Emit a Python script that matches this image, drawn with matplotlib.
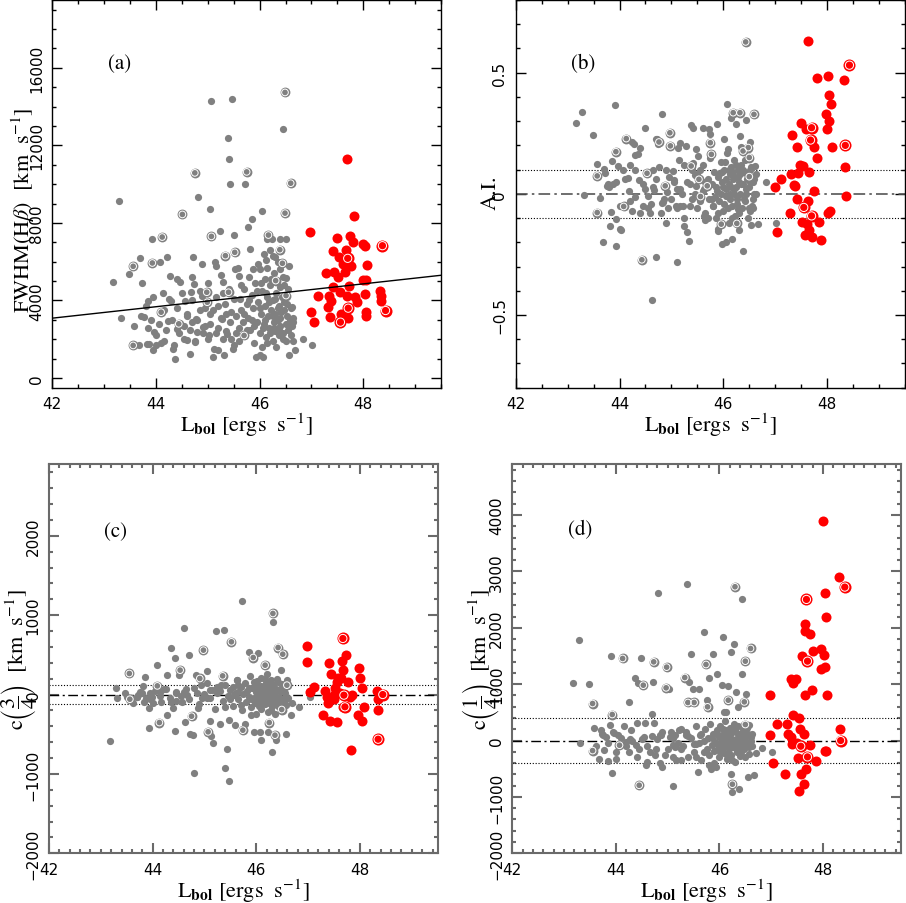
import matplotlib
matplotlib.use("Agg")
import matplotlib.pyplot as plt
from matplotlib.ticker import MultipleLocator, FuncFormatter

# ---------------- data ----------------
# panel (a): FWHM(Hbeta) vs Lbol
A_GREY = [(43.18,4939),(43.28,9141),(43.32,3087),(43.48,5351),(43.58,2675),(43.69,6174),(43.74,4922),
    (43.72,3190),(43.77,3138),(43.68,1681),(43.80,3704),(43.85,3962),(43.82,1766),(43.86,1766),(43.92,7169),
    (43.95,4167),(43.96,2367),(43.94,1423),(44.01,1681),(44.08,6003),(44.14,4390),(44.16,1887),(44.21,6226),
    (44.24,2916),(44.27,5248),(44.29,3996),(44.33,1509),(44.37,995),(44.40,2538),(44.40,5111),(44.46,4939),
    (44.56,3996),(44.59,3224),(44.60,1938),(44.66,1252),(44.67,4425),(44.69,5196),(44.72,6226),(44.74,4853),
    (44.75,1852),(44.78,3053),(44.80,2367),(44.81,9330),(44.88,5882),(44.89,4253),(44.91,2624),(45.02,2195),
    (45.04,8712),(45.06,14269),(45.11,1080),(45.13,5968),(45.16,5797),(45.20,1423),(45.23,7597),(45.27,3053),
    (45.29,4939),(45.32,1166),(45.37,2281),(45.39,12365),(45.40,11302),(45.43,10033),(45.47,14389),(45.49,1509),
    (45.51,7375),(45.59,5660),(45.61,5282),(45.68,2195),(45.72,9998),(45.78,7769),(45.81,6654),(45.86,8198),
    (45.93,1080),(45.97,5882),(46.04,8592),(46.07,1080),(46.14,7169),(46.23,7169),(46.30,6226),(46.39,7169),
    (46.46,12828),(46.51,7169),(46.50,5145),(46.65,2881),(46.62,3653),(46.65,1887),(46.83,2024),(47.02,1715),
    (46.68,1423),(46.57,1200),
    (45.55,3200),(45.6,2600),(45.62,4100),(45.65,3500),(45.68,2900),(45.7,4600),(45.72,2200),(45.75,3800),
    (45.78,3100),(45.8,5200),(45.82,2500),(45.85,4300),(45.87,3600),(45.9,1800),(45.92,4900),(45.95,2900),
    (45.97,3900),(46.0,5600),(46.0,2300),(46.02,3300),(46.05,4500),(46.05,1600),(46.08,2800),(46.1,3700),
    (46.1,5100),(46.12,6100),(46.13,2100),(46.15,4200),(46.17,3200),(46.18,2600),(46.2,4800),(46.2,6600),
    (46.22,3500),(46.25,1900),(46.25,4000),(46.27,2900),(46.28,5400),(46.3,3300),(46.3,2400),(46.32,4400),
    (46.35,3000),(46.35,6000),(46.37,2200),(46.38,3700),(46.4,4700),(46.4,2700),(46.42,3400),(46.45,5200),
    (46.45,2000),(46.47,3900),(46.5,2800),(46.5,4300),(46.52,3200),(46.55,2500),(46.57,5800),(46.6,3600),
    (46.62,2700),(46.65,3100),
    (44.6,3300),(44.65,2500),(44.7,4000),(44.75,1900),(44.8,3000),(44.85,4500),(44.9,2300),(44.95,3600),
    (45.0,2000),(45.0,4900),(45.05,2800),(45.1,3500),(45.12,1500),(45.15,4200),(45.2,2600),(45.25,3100),
    (45.25,5300),(45.3,2000),(45.33,3800),(45.35,2400),(45.4,4600),(45.42,2900),(45.45,3400),(45.5,1700),
    (45.5,4100),(45.52,5600),(45.55,2300),
    (43.85,2600),(43.9,3000),(44.0,2200),(44.05,2800),(44.1,1800),(44.15,3500),(44.2,2500),(44.25,4100),
    (44.3,3000),(44.35,1700),(44.4,3600),(44.45,2300),(44.5,4400),(44.55,2000),
    (45.6,1900),(45.65,4800),(45.7,3300),(45.75,2500),(45.8,4000),(45.85,3000),(45.88,5600),(45.9,2700),
    (45.95,4500),(46.0,3600),(46.0,1200),(46.03,4900),(46.07,2600),(46.08,6400),(46.1,3000),(46.12,4400),
    (46.15,1800),(46.15,5700),(46.18,3900),(46.2,2300),(46.22,5100),(46.25,3200),(46.25,6300),(46.28,2600),
    (46.3,4100),(46.32,1600),(46.33,5000),(46.35,3600),(46.37,2500),(46.4,3100),(46.4,5600),(46.43,4200),
    (46.45,2300),(46.47,3500),(46.48,4800),(46.5,1900),(46.53,3800),(46.55,4600),(46.58,3000),(46.6,2200),
    (45.45,2000),(45.35,3300),(45.3,4400),(45.2,3700),(45.15,2300),(45.05,3300),(44.95,2700),(44.85,3500),
    (44.7,2900),(44.55,2700)]
A_GREY_RING = [(43.56,5762),(43.56,1681),(43.93,5934),(44.10,3396),(44.12,7272),(44.44,2795),(44.51,8438),
    (44.75,10582),(44.98,4425),(44.99,3910),(45.07,7306),(45.34,6311),(45.40,4425),(45.52,6483),(45.70,2195),
    (45.75,10633),(46.17,7375),(46.39,6620),(46.49,14732),(46.49,8506),(46.44,5917),(46.60,10050),(46.51,4253),
    (46.31,5025)]
A_RED = [(46.98,7512),(46.99,3396),(47.04,2898),(47.12,4219),(47.28,5402),(47.34,4253),(47.38,3979),
    (47.32,3653),(47.36,3138),(47.41,6534),(47.42,4682),(47.44,5488),(47.49,7203),(47.52,5196),(47.54,6226),
    (47.55,4459),(47.58,3310),(47.61,5882),(47.65,5488),(47.67,6620),(47.68,11285),(47.68,4253),(47.74,7340),
    (47.76,5797),(47.73,4768),(47.70,3087),(47.81,6997),(47.82,8335),(47.84,4167),(47.87,3945),(47.99,6911),
    (48.03,6826),(48.00,5076),(48.06,5076),(48.03,4339),(48.05,3396),(48.06,3224),(48.08,5848),(48.32,4510),
    (48.35,4253),(48.35,3996)]
A_RED_RING = [(47.56,2881),(47.70,6174),(47.71,3602),(48.37,6826),(48.43,3481)]
A_FIT_AT_42 = 3087      # fitted relation value at Lbol = 42
A_FIT_SLOPE = 295       # km/s per dex

# panel (b): asymmetry index
B_GREY = [(43.17,0.291),(43.28,0.337),(43.32,-0.004),(43.49,0.244),(43.57,0.125),(43.62,-0.018),(43.68,-0.198),
    (43.71,0.102),(43.73,0.085),(43.75,0.033),(43.78,0.040),(43.81,-0.132),(43.84,-0.073),(43.86,0.134),
    (43.88,0.040),(43.92,0.365),(43.94,0.049),(43.93,-0.102),(43.94,-0.217),(43.98,0.115),(44.00,-0.145),
    (44.02,-0.150),(44.07,0.097),(44.16,0.064),(44.18,0.010),(44.21,0.119),(44.25,0.214),(44.27,0.207),
    (44.29,0.159),(44.36,0.165),(44.24,-0.070),(44.29,-0.011),(44.38,0.058),(44.40,0.188),(44.45,-0.052),
    (44.49,0.272),(44.55,-0.008),(44.58,-0.080),(44.62,-0.440),(44.65,0.029),(44.67,0.016),(44.70,-0.259),
    (44.71,0.225),(44.73,0.228),(44.74,0.204),(44.77,0.111),(44.81,0.331),(44.81,-0.036),(44.83,-0.033),
    (44.89,-0.121),(44.92,0.008),(44.94,-0.060),(45.03,0.095),(45.05,0.056),(45.08,-0.052),(45.10,-0.283),
    (45.13,0.191),(45.17,0.209),(45.16,0.019),(45.17,-0.052),(45.22,-0.049),(45.24,-0.132),(45.29,0.198),
    (45.30,-0.159),(45.33,-0.195),(45.35,0.040),(45.37,0.283),(45.42,0.273),(45.42,0.129),(45.45,0.077),
    (45.47,0.033),(45.48,0.184),(45.51,0.156),(45.60,0.012),(45.61,0.273),(45.62,-0.091),(45.64,-0.108),
    (45.67,0.040),(45.72,0.266),(45.74,0.246),(45.79,-0.022),(45.80,-0.049),(45.83,-0.015),(45.87,0.287),
    (45.89,-0.145),(45.90,-0.152),(45.93,0.088),(45.97,-0.207),(46.05,-0.200),(46.01,0.225),(46.08,0.372),
    (46.09,0.184),(46.12,-0.022),(46.14,0.314),(46.17,-0.187),(46.24,0.287),(46.28,-0.063),(46.33,0.239),
    (46.35,0.195),(46.38,-0.235),(46.44,0.305),(46.51,0.215),(46.52,-0.071),(46.54,-0.128),(46.57,-0.060),
    (46.61,0.115),(46.62,-0.001),(46.67,-0.125),(46.83,0.047),(47.02,-0.121),
    (45.3,0.05),(45.35,-0.05),(45.4,0.1),(45.45,0.0),(45.5,0.08),(45.55,-0.03),(45.6,0.12),(45.62,0.02),
    (45.65,-0.08),(45.7,0.06),(45.72,-0.02),(45.75,0.15),(45.78,0.04),(45.8,-0.05),(45.82,0.09),(45.85,-0.1),
    (45.88,0.01),(45.9,0.07),(45.92,-0.03),(45.95,0.13),(45.97,0.05),(46.0,-0.07),(46.0,0.03),(46.02,0.1),
    (46.05,-0.01),(46.05,0.06),(46.08,0.17),(46.1,-0.12),(46.1,0.04),(46.12,0.08),(46.13,0.0),(46.15,0.11),
    (46.17,-0.05),(46.18,0.06),(46.2,0.02),(46.2,0.14),(46.22,-0.09),(46.23,0.07),(46.25,0.03),(46.27,-0.02),
    (46.28,0.1),(46.3,0.05),(46.3,-0.15),(46.32,0.0),(46.33,0.08),(46.35,0.12),(46.36,-0.06),(46.38,0.04),
    (46.4,0.09),(46.42,-0.03),(46.43,0.02),(46.45,0.06),(46.47,-0.1),(46.5,0.03),(46.52,0.1),(46.55,-0.05),
    (46.57,0.05),(46.6,0.0),(46.62,0.08),
    (44.5,0.02),(44.6,-0.04),(44.7,0.06),(44.8,-0.08),(44.9,0.1),(45.0,-0.02),(45.05,0.05),(45.1,-0.06),
    (45.15,0.14),(45.2,0.0),(45.25,-0.1),
    (43.8,0.03),(44.0,-0.05),(44.1,0.06),(44.2,-0.03),(44.3,0.1),(44.4,-0.08),
    (45.85,0.03),(45.9,-0.08),(45.95,0.0),(45.98,0.09),(46.02,-0.04),(46.04,0.13),(46.06,0.02),(46.09,-0.06),
    (46.11,0.1),(46.14,0.03),(46.16,-0.1),(46.19,0.09),(46.21,0.0),(46.24,0.12),(46.26,-0.04),(46.29,0.07),
    (46.31,-0.08),(46.34,0.04),(46.37,0.1),(46.39,-0.02),(46.41,0.14),(46.44,0.0),(46.46,0.08),(46.49,-0.06),
    (46.51,0.05),(46.54,0.11),(46.58,-0.02),(46.6,0.06),(45.5,-0.06),(45.55,0.1),(45.65,0.05),(45.7,-0.1),
    (45.4,-0.02),(45.25,0.12),(45.1,0.02),(44.95,0.07),(44.85,-0.02),(44.65,0.1),(44.55,-0.06),(44.45,0.04)]
B_GREY_RING = [(43.57,0.074),(43.57,-0.077),(43.93,0.174),(44.08,-0.052),(44.13,0.228),(44.43,-0.272),
    (44.53,0.085),(44.76,0.214),(44.88,0.033),(44.97,0.252),(44.98,0.198),(45.38,0.115),(45.53,0.060),
    (45.56,-0.011),(45.69,0.033),(45.75,0.211),(45.77,0.163),(45.96,-0.125),(46.19,0.335),(46.32,0.335),
    (46.26,-0.122),(46.38,0.177),(46.43,0.627),(46.48,0.191),(46.50,0.150),(46.50,0.071),(46.59,0.328)]
B_RED = [(46.99,0.029),(47.04,-0.159),(47.12,0.060),(47.28,-0.078),(47.33,0.241),(47.31,0.081),(47.36,0.036),
    (47.38,0.033),(47.41,0.193),(47.41,-0.022),(47.44,0.084),(47.47,0.119),(47.54,0.115),(47.50,0.291),
    (47.52,-0.118),(47.57,-0.169),(47.60,0.269),(47.61,-0.125),(47.65,0.091),(47.64,-0.030),(47.63,0.631),
    (47.65,-0.150),(47.70,-0.180),(47.74,0.193),(47.75,0.010),(47.80,0.150),(47.81,0.480),(47.84,-0.118),
    (47.88,-0.189),(47.97,0.331),(48.01,0.488),(48.00,0.269),(48.03,0.300),(48.04,0.410),(48.07,0.369),
    (48.02,-0.080),(48.06,-0.070),(48.09,0.192),(48.32,0.470),(48.34,0.111),(48.36,-0.008)]
B_RED_RING = [(47.55,-0.056),(47.68,0.222),(47.70,0.273),(47.70,-0.091),(48.35,0.200),(48.43,0.531)]
B_DOTTED = 0.1

# panel (c): centroid at 3/4
C_GREY = [(43.18,-580),(43.29,88),(43.31,-50),(43.47,13),(43.50,-29),(43.59,-42),(43.63,-113),(43.69,-29),
    (43.72,-8),(43.76,34),(43.81,109),(43.83,-92),(43.86,223),(43.88,-50),(43.92,-176),(43.92,-420),
    (43.95,13),(43.98,-29),(44.01,-101),(44.08,378),(44.14,34),(44.17,-92),(44.21,67),(44.27,244),
    (44.27,-252),(44.33,-50),(44.35,580),(44.39,-168),(44.43,454),(44.44,-462),(44.46,34),(44.50,252),
    (44.56,-92),(44.60,844),(44.62,-344),(44.66,-8),(44.71,496),(44.72,-491),(44.78,-504),(44.80,-983),
    (44.84,244),(44.88,-176),(44.93,118),(45.04,294),(45.05,-50),(45.11,-336),(45.13,-521),(45.17,-613),
    (45.23,802),(45.30,-365),(45.31,118),(45.38,811),(45.40,-924),(45.43,-680),(45.47,-1092),(45.48,-323),
    (45.56,-8),(45.58,-386),(45.62,181),(45.65,118),(45.72,1176),(45.78,-365),(45.86,538),(45.89,-260),
    (45.95,-470),(45.97,-71),(46.04,517),(46.07,-470),(46.10,-567),(46.23,-470),(46.30,-722),(46.33,916),
    (46.38,-575),(46.48,307),(46.57,-491),(46.66,-260),(46.68,-101),(46.82,-155),(47.03,-29),
    (45.3,40),(45.35,-80),(45.4,120),(45.45,-20),(45.5,60),(45.55,-150),(45.6,20),(45.62,180),(45.65,-60),
    (45.7,90),(45.72,-200),(45.75,10),(45.78,140),(45.8,-100),(45.82,50),(45.85,-30),(45.88,230),(45.9,-160),
    (45.92,80),(45.95,-50),(45.97,120),(46.0,-250),(46.0,30),(46.02,170),(46.05,-90),(46.05,60),(46.08,-10),
    (46.1,210),(46.1,-180),(46.12,100),(46.13,-40),(46.15,40),(46.17,-120),(46.18,150),(46.2,-60),(46.2,260),
    (46.22,10),(46.23,-220),(46.25,90),(46.27,-30),(46.28,180),(46.3,-140),(46.3,50),(46.32,-70),(46.33,120),
    (46.35,0),(46.36,-250),(46.38,70),(46.4,-100),(46.42,160),(46.43,-30),(46.45,40),(46.47,-180),(46.5,90),
    (46.52,-60),(46.55,20),(46.57,-130),(46.6,110),(46.62,-40),
    (44.6,30),(44.7,-60),(44.8,80),(44.9,-120),(45.0,10),(45.05,150),(45.1,-40),(45.15,60),(45.2,-180),
    (45.25,20),
    (43.7,-30),(43.8,20),(43.95,-60),(44.05,40),(44.15,-20),(44.25,70),(44.35,-90),(44.45,20),
    (45.85,80),(45.9,-60),(45.95,160),(45.98,-110),(46.02,60),(46.04,-20),(46.06,-150),(46.09,110),(46.11,20),
    (46.14,-70),(46.16,200),(46.19,-20),(46.21,90),(46.24,-110),(46.26,40),(46.29,-200),(46.31,130),(46.34,20),
    (46.37,-70),(46.39,200),(46.41,-150),(46.44,60),(46.46,-40),(46.49,130),(46.51,-120),(46.54,50),
    (46.58,-60),(46.6,180),(45.5,-60),(45.55,100),(45.65,30),(45.7,-130),(45.4,-160),(45.25,90),(45.1,60),
    (44.95,-40),(44.85,20),(44.65,70),(44.55,-20),(44.45,-80)]
C_GREY_RING = [(43.55,265),(43.56,-59),(44.09,109),(44.13,-353),(44.53,307),(44.75,-273),(44.91,202),
    (44.98,559),(45.07,-470),(45.35,235),(45.52,664),(45.74,-449),(45.94,466),(46.17,370),(46.25,-353),
    (46.32,1021),(46.36,-512),(46.42,592),(46.49,-189),(46.51,508),(46.59,118)]
C_RED = [(46.98,609),(46.98,412),(47.04,34),(47.12,97),(47.28,-260),(47.32,46),(47.36,-29),(47.39,-113),
    (47.41,399),(47.42,-336),(47.45,256),(47.49,-8),(47.49,-59),(47.52,76),(47.55,-344),(47.56,160),
    (47.58,210),(47.63,210),(47.61,13),(47.65,424),(47.67,307),(47.68,-155),(47.74,496),(47.77,160),
    (47.81,-29),(47.82,-701),(47.84,-8),(47.99,340),(48.00,202),(48.03,76),(47.97,-260),(48.03,-336),
    (48.08,-155),(48.32,46),(48.34,-189),(48.35,-59)]
C_RED_RING = [(47.67,706),(47.69,-8),(47.71,-155),(48.35,-563),(48.44,0)]
C_DOTTED = 120

# panel (d): centroid at 1/4
D_GREY = [(43.18,1012),(43.28,1781),(43.31,-41),(43.48,1000),(43.57,225),(43.62,-95),(43.67,-331),
    (43.71,183),(43.73,124),(43.78,-172),(43.81,65),(43.84,-361),(43.88,284),(43.91,1491),(43.93,-574),
    (43.97,142),(44.00,-320),(44.04,95),(44.16,260),(44.20,-24),(44.25,686),(44.26,-201),(44.28,36),
    (44.31,-12),(44.36,1112),(44.39,-83),(44.41,320),(44.42,1012),(44.49,1456),(44.57,320),(44.58,-438),
    (44.61,-379),(44.70,467),(44.71,1041),(44.74,320),(44.77,-142),(44.81,2615),(44.87,95),(44.90,-467),
    (45.02,923),(45.06,154),(45.10,-799),(45.11,-83),(45.15,-112),(45.17,-349),(45.22,183),(45.26,-349),
    (45.35,95),(45.38,2775),(45.42,1041),(45.45,1544),(45.48,923),(45.55,-53),(45.58,-556),(45.61,923),
    (45.71,1929),(45.75,716),(45.79,1101),(45.80,-438),(45.83,-497),(45.87,1532),(45.93,-467),(45.96,1189),
    (46.05,994),(46.07,1828),(46.09,509),(46.12,509),(46.17,970),(46.22,1574),(46.22,-586),(46.24,-911),
    (46.29,1704),(46.32,864),(46.35,598),(46.37,-864),(46.39,-130),(46.43,1172),(46.44,2509),(46.54,-71),
    (46.56,-645),(46.62,112),(46.67,-615),(46.70,-213),(46.83,-130),(47.02,-201),(46.57,272),(46.51,834),
    (45.3,-100),(45.35,150),(45.4,-300),(45.45,50),(45.5,-200),(45.55,250),(45.6,-50),(45.62,100),(45.65,-350),
    (45.7,0),(45.72,200),(45.75,-150),(45.78,50),(45.8,-250),(45.82,300),(45.85,-80),(45.88,120),(45.9,-400),
    (45.92,-20),(45.95,180),(45.97,-150),(46.0,60),(46.0,-300),(46.02,250),(46.05,-100),(46.05,100),
    (46.08,-220),(46.1,350),(46.1,0),(46.12,-60),(46.13,180),(46.15,-320),(46.17,80),(46.18,-150),(46.2,220),
    (46.2,-30),(46.22,-250),(46.23,130),(46.25,30),(46.27,-120),(46.28,300),(46.3,-40),(46.3,-380),
    (46.32,150),(46.33,-200),(46.35,60),(46.36,250),(46.38,-90),(46.4,-280),(46.42,100),(46.43,-30),
    (46.45,200),(46.47,-150),(46.5,40),(46.52,-60),(46.55,120),(46.57,-230),(46.6,70),(46.62,-100),
    (44.6,-100),(44.7,80),(44.75,-250),(44.8,20),(44.85,-400),(44.9,150),(45.0,-150),(45.05,60),(45.1,-300),
    (45.15,100),(45.2,-50),(45.25,200),
    (43.75,100),(43.85,-50),(43.95,150),(44.0,-200),(44.1,50),(44.2,-100),(44.3,180),(44.4,-300),(44.5,20),
    (45.85,50),(45.9,-180),(45.95,-60),(45.98,100),(46.02,-200),(46.04,0),(46.06,200),(46.09,-120),(46.11,80),
    (46.14,-250),(46.16,30),(46.19,150),(46.21,-100),(46.24,-350),(46.26,180),(46.29,-60),(46.31,250),
    (46.34,-180),(46.37,30),(46.39,120),(46.41,-200),(46.44,-80),(46.46,150),(46.49,-300),(46.51,-20),
    (46.54,230),(46.58,-120),(46.6,0),(45.5,-60),(45.55,-300),(45.65,120),(45.7,-200),(45.4,80),(45.25,-150),
    (45.1,50),(44.95,-250),(44.85,100),(44.65,-200),(44.55,60),(44.45,-150)]
D_GREY_RING = [(43.55,657),(43.55,-178),(43.93,462),(44.07,-83),(44.13,1456),(44.45,-793),(44.53,982),
    (44.73,1396),(44.97,935),(44.98,1302),(45.33,1118),(45.39,675),(45.51,675),(45.74,1349),(45.77,598),
    (46.17,716),(46.25,-775),(46.30,2728),(46.48,686),(46.50,1408),(46.50,284),(46.60,1633)]
D_RED = [(46.98,805),(46.97,107),(47.04,-391),(47.12,302),(47.27,-598),(47.30,290),(47.33,124),(47.38,65),
    (47.39,1089),(47.41,-53),(47.42,1012),(47.47,1089),(47.42,450),(47.50,-41),(47.52,-308),(47.54,402),
    (47.55,213),(47.54,-893),(47.57,-586),(47.60,1503),(47.63,124),(47.65,805),(47.63,-763),(47.65,1947),
    (47.66,2065),(47.68,-497),(47.74,1888),(47.75,-71),(47.79,905),(47.81,1592),(47.86,-367),(47.97,1266),
    (47.97,1615),(48.00,3899),(48.02,1515),(48.04,1308),(48.04,2621),(48.06,2195),(48.04,-189),(48.06,-189),
    (48.08,805),(48.31,2893),(48.33,201)]
D_RED_RING = [(47.57,-101),(47.68,2503),(47.70,1408),(47.70,-290),(48.34,0),(48.42,2722)]
D_DOTTED = 400

PANEL_TAGS = ["(a)", "(b)", "(c)", "(d)"]

# ---------------- style ----------------
GREY = "#808080"
RED = "#ff0000"
SERIF = ["STIXGeneral", "DejaVu Serif"]
plt.rcParams["mathtext.fontset"] = "stix"
plt.rcParams["font.family"] = ["DejaVu Sans"]

fig = plt.figure(figsize=(9.06, 9.04), dpi=100)
W, H = 906.0, 904.0


def make_ax(left, right, top, bottom):
    return fig.add_axes([left / W, 1 - bottom / H, (right - left) / W, (bottom - top) / H])


ax_a = make_ax(52.3, 441.0, 1.0, 388.7)
ax_b = make_ax(515.7, 905.0, 1.0, 388.7)
ax_c = make_ax(49.0, 437.7, 465.3, 854.3)
ax_d = make_ax(512.3, 900.7, 465.3, 854.3)


def fmt(v, pos):
    s = "%g" % v
    return s.replace("-", "\u2212")


def style(ax, xminor, ymajor, yminor, ylim, col, lw):
    ax.set_xlim(42, 49.5)
    ax.set_xticks([42, 44, 46, 48])
    ax.xaxis.set_minor_locator(MultipleLocator(xminor))
    ax.set_ylim(*ylim)
    ax.yaxis.set_major_locator(MultipleLocator(ymajor))
    ax.yaxis.set_minor_locator(MultipleLocator(yminor))
    ax.yaxis.set_major_formatter(FuncFormatter(fmt))
    ax.tick_params(which="both", direction="in", top=True, right=True, color=col, width=lw)
    ax.tick_params(which="major", length=7, pad=6, labelsize=11)
    ax.tick_params(which="minor", length=3.2)
    for s in ax.spines.values():
        s.set_color(col)
        s.set_linewidth(lw)
    for lbl in ax.get_yticklabels():
        lbl.set_rotation(90)
        lbl.set_va("center")


def draw(ax, grey, grey_ring, red, red_ring):
    gx, gy = zip(*grey)
    ax.scatter(gx, gy, s=27, c=GREY, linewidths=0, zorder=3)
    rx, ry = zip(*grey_ring)
    ax.scatter(rx, ry, s=50, c=GREY, linewidths=0, zorder=4)
    ax.scatter(rx, ry, s=23, facecolors="none", edgecolors="white", linewidths=0.7, zorder=5)
    qx, qy = zip(*red)
    ax.scatter(qx, qy, s=52, c=RED, linewidths=0, zorder=6)
    wx, wy = zip(*red_ring)
    ax.scatter(wx, wy, s=75, c=RED, linewidths=0, zorder=7)
    ax.scatter(wx, wy, s=35, facecolors="none", edgecolors="white", linewidths=0.7, zorder=8)


def xlabel(ax):
    ax.set_xlabel(r"L$_{\mathbf{bol}}$ [ergs  s$^{-1}$]", family=SERIF, fontsize=16)
    ax.xaxis.set_label_coords(0.5, -0.060)


def ylabel(ax, text, xc, yc, size=16):
    ax.set_ylabel(text, family=SERIF, fontsize=size)
    ax.yaxis.label.set_va("baseline")
    ax.yaxis.set_label_coords(xc, yc)


# panel a
style(ax_a, 0.5, 4000, 1000, (-500, 19500), "black", 1.0)
draw(ax_a, A_GREY, A_GREY_RING, A_RED, A_RED_RING)
xf = [42, 49.5]
ax_a.plot(xf, [A_FIT_AT_42 + A_FIT_SLOPE * (x - 42) for x in xf], color="black", lw=1.0, zorder=10)
xlabel(ax_a)
ylabel(ax_a, r"FWHM(H$\beta$)  [km  s$^{-1}$]", -0.058, 0.46)

# panel b
style(ax_b, 0.5, 0.5, 0.1, (-0.8, 0.8), "black", 1.0)
draw(ax_b, B_GREY, B_GREY_RING, B_RED, B_RED_RING)
for yv in (B_DOTTED, -B_DOTTED):
    ax_b.axhline(yv, color="black", lw=0.8, ls=(0, (1, 1.6)), zorder=2)
ax_b.axhline(0, color="#555555", lw=1.2, ls=(0, (7, 2.5, 1.5, 2.5)), zorder=2)
xlabel(ax_b)
ylabel(ax_b, "A.I.", -0.052, 0.505)

# panel c
style(ax_c, 0.2, 1000, 200, (-2000, 2900), "#6a6a6a", 1.5)
draw(ax_c, C_GREY, C_GREY_RING, C_RED, C_RED_RING)
for yv in (C_DOTTED, -C_DOTTED):
    ax_c.axhline(yv, color="black", lw=0.8, ls=(0, (1, 1.6)), zorder=2)
ax_c.axhline(0, color="black", lw=1.0, ls=(0, (7, 2.5, 1.5, 2.5)), zorder=2)
xlabel(ax_c)
ylabel(ax_c, r"c$\left(\dfrac{3}{4}\right)$  [km  s$^{-1}$]", -0.066, 0.50)

# panel d
style(ax_d, 0.2, 1000, 200, (-2000, 4900), "#6a6a6a", 1.5)
draw(ax_d, D_GREY, D_GREY_RING, D_RED, D_RED_RING)
for yv in (D_DOTTED, -D_DOTTED):
    ax_d.axhline(yv, color="black", lw=0.8, ls=(0, (1, 1.6)), zorder=2)
ax_d.axhline(0, color="black", lw=1.0, ls=(0, (7, 2.5, 1.5, 2.5)), zorder=2)
xlabel(ax_d)
ylabel(ax_d, r"c$\left(\dfrac{1}{4}\right)$  [km  s$^{-1}$]", -0.068, 0.50)

for ax, tag, (tx, ty) in zip((ax_a, ax_b, ax_c, ax_d), PANEL_TAGS,
                             ((0.172, 0.838), (0.173, 0.838), (0.17, 0.829), (0.174, 0.834))):
    ax.text(tx, ty, tag, transform=ax.transAxes, ha="center", va="center", family=SERIF, fontsize=15)

fig.savefig("out.png", dpi=100)
